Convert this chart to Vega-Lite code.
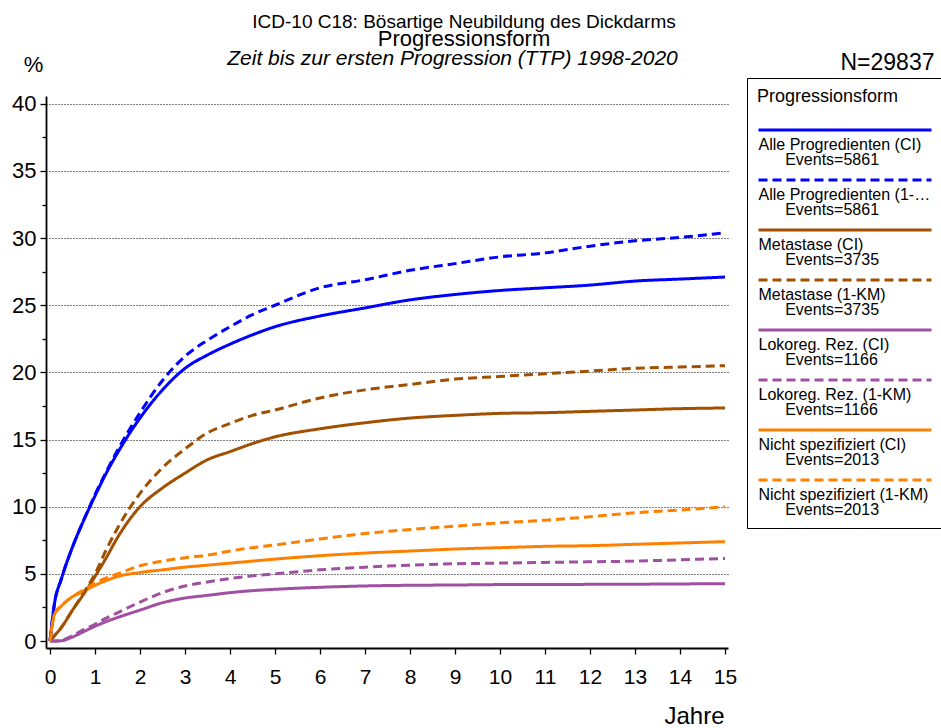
{
  "$schema": "https://vega.github.io/schema/vega-lite/v6.json",
  "width": 682,
  "height": 552,
  "autosize": {"type": "none"},
  "padding": {"left": 46, "top": 96, "right": 213, "bottom": 80},
  "background": "white",
  "title": {
    "text": "ICD-10 C18: Bösartige Neubildung des Dickdarms",
    "subtitle": "Progressionsform",
    "anchor": "middle",
    "frame": "group",
    "dx": 77,
    "dy": 3,
    "offset": 0,
    "font": "Liberation Sans",
    "fontSize": 19,
    "fontWeight": "normal",
    "color": "black",
    "subtitleFont": "Liberation Sans",
    "subtitleFontSize": 22,
    "subtitleColor": "black",
    "subtitlePadding": -3
  },
  "datasets": {
    "names": [
      {"k": "A", "s": "Alle Progredienten (CI)"},
      {"k": "B", "s": "Alle Progredienten (1-KM)"},
      {"k": "C", "s": "Metastase (CI)"},
      {"k": "D", "s": "Metastase (1-KM)"},
      {"k": "E", "s": "Lokoreg. Rez. (CI)"},
      {"k": "F", "s": "Lokoreg. Rez. (1-KM)"},
      {"k": "G", "s": "Nicht spezifiziert (CI)"},
      {"k": "H", "s": "Nicht spezifiziert (1-KM)"}
    ]
  },
  "data": {"values": [
    {"k":"A","t":0,"v":0},{"k":"A","t":0.1,"v":2.8},{"k":"A","t":0.25,"v":4.6},{"k":"A","t":0.5,"v":7.0},{"k":"A","t":0.75,"v":9.0},{"k":"A","t":1,"v":10.8},{"k":"A","t":1.25,"v":12.5},{"k":"A","t":1.5,"v":14.0},{"k":"A","t":2,"v":16.6},{"k":"A","t":2.5,"v":18.7},{"k":"A","t":3,"v":20.3},{"k":"A","t":3.5,"v":21.3},{"k":"A","t":4,"v":22.1},{"k":"A","t":4.5,"v":22.8},{"k":"A","t":5,"v":23.4},{"k":"A","t":6,"v":24.2},{"k":"A","t":7,"v":24.8},{"k":"A","t":8,"v":25.4},{"k":"A","t":9,"v":25.8},{"k":"A","t":10,"v":26.1},{"k":"A","t":11,"v":26.3},{"k":"A","t":12,"v":26.5},{"k":"A","t":13,"v":26.8},{"k":"A","t":14,"v":26.95},{"k":"A","t":15,"v":27.1},
    {"k":"B","t":0,"v":0},{"k":"B","t":0.1,"v":2.8},{"k":"B","t":0.25,"v":4.6},{"k":"B","t":0.5,"v":7.0},{"k":"B","t":0.75,"v":9.0},{"k":"B","t":1,"v":10.9},{"k":"B","t":1.25,"v":12.6},{"k":"B","t":1.5,"v":14.2},{"k":"B","t":2,"v":17.0},{"k":"B","t":2.5,"v":19.4},{"k":"B","t":3,"v":21.2},{"k":"B","t":3.5,"v":22.4},{"k":"B","t":4,"v":23.4},{"k":"B","t":4.5,"v":24.3},{"k":"B","t":5,"v":25.0},{"k":"B","t":6,"v":26.3},{"k":"B","t":7,"v":26.9},{"k":"B","t":8,"v":27.6},{"k":"B","t":9,"v":28.1},{"k":"B","t":10,"v":28.6},{"k":"B","t":11,"v":28.9},{"k":"B","t":12,"v":29.4},{"k":"B","t":13,"v":29.8},{"k":"B","t":14,"v":30.05},{"k":"B","t":15,"v":30.4},
    {"k":"C","t":0,"v":0},{"k":"C","t":0.1,"v":0.4},{"k":"C","t":0.25,"v":1.0},{"k":"C","t":0.5,"v":2.3},{"k":"C","t":0.75,"v":3.5},{"k":"C","t":1,"v":4.8},{"k":"C","t":1.25,"v":6.2},{"k":"C","t":1.5,"v":7.7},{"k":"C","t":2,"v":10.0},{"k":"C","t":2.5,"v":11.4},{"k":"C","t":3,"v":12.5},{"k":"C","t":3.5,"v":13.5},{"k":"C","t":4,"v":14.1},{"k":"C","t":4.5,"v":14.7},{"k":"C","t":5,"v":15.2},{"k":"C","t":6,"v":15.8},{"k":"C","t":7,"v":16.25},{"k":"C","t":8,"v":16.6},{"k":"C","t":9,"v":16.8},{"k":"C","t":10,"v":16.95},{"k":"C","t":11,"v":17.0},{"k":"C","t":12,"v":17.1},{"k":"C","t":13,"v":17.2},{"k":"C","t":14,"v":17.3},{"k":"C","t":15,"v":17.35},
    {"k":"D","t":0,"v":0},{"k":"D","t":0.1,"v":0.4},{"k":"D","t":0.25,"v":1.0},{"k":"D","t":0.5,"v":2.3},{"k":"D","t":0.75,"v":3.6},{"k":"D","t":1,"v":5.0},{"k":"D","t":1.25,"v":6.8},{"k":"D","t":1.5,"v":8.4},{"k":"D","t":2,"v":11.0},{"k":"D","t":2.5,"v":12.9},{"k":"D","t":3,"v":14.3},{"k":"D","t":3.5,"v":15.5},{"k":"D","t":4,"v":16.2},{"k":"D","t":4.5,"v":16.8},{"k":"D","t":5,"v":17.2},{"k":"D","t":6,"v":18.1},{"k":"D","t":7,"v":18.7},{"k":"D","t":8,"v":19.1},{"k":"D","t":9,"v":19.5},{"k":"D","t":10,"v":19.7},{"k":"D","t":11,"v":19.9},{"k":"D","t":12,"v":20.1},{"k":"D","t":13,"v":20.3},{"k":"D","t":14,"v":20.4},{"k":"D","t":15,"v":20.5},
    {"k":"E","t":0,"v":0},{"k":"E","t":0.1,"v":0},{"k":"E","t":0.25,"v":0.02},{"k":"E","t":0.5,"v":0.3},{"k":"E","t":0.75,"v":0.7},{"k":"E","t":1,"v":1.1},{"k":"E","t":1.25,"v":1.45},{"k":"E","t":1.5,"v":1.75},{"k":"E","t":2,"v":2.3},{"k":"E","t":2.5,"v":2.85},{"k":"E","t":3,"v":3.2},{"k":"E","t":3.5,"v":3.4},{"k":"E","t":4,"v":3.6},{"k":"E","t":4.5,"v":3.75},{"k":"E","t":5,"v":3.85},{"k":"E","t":6,"v":4.0},{"k":"E","t":7,"v":4.1},{"k":"E","t":8,"v":4.15},{"k":"E","t":9,"v":4.17},{"k":"E","t":10,"v":4.2},{"k":"E","t":11,"v":4.2},{"k":"E","t":12,"v":4.22},{"k":"E","t":13,"v":4.23},{"k":"E","t":14,"v":4.25},{"k":"E","t":15,"v":4.27},
    {"k":"F","t":0,"v":0},{"k":"F","t":0.1,"v":0},{"k":"F","t":0.25,"v":0.05},{"k":"F","t":0.5,"v":0.4},{"k":"F","t":0.75,"v":0.85},{"k":"F","t":1,"v":1.25},{"k":"F","t":1.25,"v":1.7},{"k":"F","t":1.5,"v":2.1},{"k":"F","t":2,"v":2.9},{"k":"F","t":2.5,"v":3.6},{"k":"F","t":3,"v":4.1},{"k":"F","t":3.5,"v":4.4},{"k":"F","t":4,"v":4.65},{"k":"F","t":4.5,"v":4.85},{"k":"F","t":5,"v":5.0},{"k":"F","t":6,"v":5.3},{"k":"F","t":7,"v":5.5},{"k":"F","t":8,"v":5.65},{"k":"F","t":9,"v":5.75},{"k":"F","t":10,"v":5.8},{"k":"F","t":11,"v":5.85},{"k":"F","t":12,"v":5.9},{"k":"F","t":13,"v":5.95},{"k":"F","t":14,"v":6.05},{"k":"F","t":15,"v":6.15},
    {"k":"G","t":0,"v":0},{"k":"G","t":0.1,"v":2.0},{"k":"G","t":0.25,"v":2.6},{"k":"G","t":0.5,"v":3.3},{"k":"G","t":0.75,"v":3.7},{"k":"G","t":1,"v":4.15},{"k":"G","t":1.25,"v":4.5},{"k":"G","t":1.5,"v":4.8},{"k":"G","t":2,"v":5.1},{"k":"G","t":2.5,"v":5.3},{"k":"G","t":3,"v":5.5},{"k":"G","t":3.5,"v":5.65},{"k":"G","t":4,"v":5.8},{"k":"G","t":4.5,"v":5.95},{"k":"G","t":5,"v":6.1},{"k":"G","t":6,"v":6.35},{"k":"G","t":7,"v":6.55},{"k":"G","t":8,"v":6.7},{"k":"G","t":9,"v":6.85},{"k":"G","t":10,"v":6.95},{"k":"G","t":11,"v":7.05},{"k":"G","t":12,"v":7.1},{"k":"G","t":13,"v":7.2},{"k":"G","t":14,"v":7.3},{"k":"G","t":15,"v":7.4},
    {"k":"H","t":0,"v":0},{"k":"H","t":0.1,"v":2.0},{"k":"H","t":0.25,"v":2.6},{"k":"H","t":0.5,"v":3.3},{"k":"H","t":0.75,"v":3.8},{"k":"H","t":1,"v":4.3},{"k":"H","t":1.25,"v":4.7},{"k":"H","t":1.5,"v":5.0},{"k":"H","t":2,"v":5.6},{"k":"H","t":2.5,"v":5.95},{"k":"H","t":3,"v":6.2},{"k":"H","t":3.5,"v":6.4},{"k":"H","t":4,"v":6.7},{"k":"H","t":4.5,"v":6.95},{"k":"H","t":5,"v":7.15},{"k":"H","t":6,"v":7.6},{"k":"H","t":7,"v":8.0},{"k":"H","t":8,"v":8.3},{"k":"H","t":9,"v":8.55},{"k":"H","t":10,"v":8.8},{"k":"H","t":11,"v":9.0},{"k":"H","t":12,"v":9.25},{"k":"H","t":13,"v":9.55},{"k":"H","t":14,"v":9.75},{"k":"H","t":15,"v":10.0}
  ]},
  "transform": [
    {"lookup": "k", "from": {"data": {"name": "names"}, "key": "k", "fields": ["s"]}}
  ],
  "layer": [
    {
      "transform": [{"filter": {"field": "k", "oneOf": ["A", "C", "E", "G"]}}],
      "mark": {"type": "line", "strokeWidth": 3, "interpolate": "monotone"},
      "encoding": {
        "x": {
          "field": "t", "type": "quantitative",
          "scale": {"domain": [-0.089, 15.067], "nice": false, "zero": false},
          "axis": {
            "values": [0,0.25,0.5,0.75,1,1.25,1.5,1.75,2,2.25,2.5,2.75,3,3.25,3.5,3.75,4,4.25,4.5,4.75,5,5.25,5.5,5.75,6,6.25,6.5,6.75,7,7.25,7.5,7.75,8,8.25,8.5,8.75,9,9.25,9.5,9.75,10,10.25,10.5,10.75,11,11.25,11.5,11.75,12,12.25,12.5,12.75,13,13.25,13.5,13.75,14,14.25,14.5,14.75,15],
            "format": "d",
            "labelExpr": "datum.value % 1 === 0 ? datum.label : ''",
            "labelFontSize": 21,
            "labelPadding": 12,
            "labelOverlap": false,
            "labelFlush": false,
            "tickSize": {"condition": {"test": "datum.value % 1 === 0", "value": 6}, "value": 4},
            "tickWidth": 1.3,
            "domainWidth": 1.8,
            "grid": false,
            "title": "Jahre",
            "titleFontSize": 24,
            "titleX": 648,
            "titleY": 68,
            "titleAlign": "center",
            "titleBaseline": "middle"
          }
        },
        "y": {
          "field": "v", "type": "quantitative",
          "scale": {"domain": [-0.52, 40.58], "nice": false, "zero": false},
          "axis": {
            "values": [0,2.5,5,7.5,10,12.5,15,17.5,20,22.5,25,27.5,30,32.5,35,37.5,40],
            "labelExpr": "datum.value % 5 === 0 ? datum.label : ''",
            "labelFontSize": 22,
            "labelPadding": 4,
            "labelOverlap": false,
            "labelFlush": false,
            "tickSize": {"condition": {"test": "datum.value % 5 === 0", "value": 6}, "value": 4},
            "tickWidth": 1.3,
            "domainWidth": 1.8,
            "grid": true,
            "gridColor": "#000000",
            "gridDash": [1, 2],
            "gridWidth": 1,
            "gridOpacity": {"condition": {"test": "datum.value % 5 === 0 && datum.value > 0", "value": 1}, "value": 0},
            "title": "%",
            "titleAngle": 0,
            "titleFontSize": 22,
            "titleX": -13,
            "titleY": -32,
            "titleAlign": "center",
            "titleBaseline": "middle"
          }
        },
        "color": {
          "field": "s", "type": "nominal",
          "scale": {
            "domain": ["Alle Progredienten (CI)","Alle Progredienten (1-KM)","Metastase (CI)","Metastase (1-KM)","Lokoreg. Rez. (CI)","Lokoreg. Rez. (1-KM)","Nicht spezifiziert (CI)","Nicht spezifiziert (1-KM)"],
            "range": ["#0000ff","#0000ff","#a05000","#a05000","#a050a0","#a050a0","#ff8000","#ff8000"]
          },
          "legend": {
            "title": "Progressionsform",
            "orient": "none",
            "legendX": 701,
            "legendY": -18,
            "strokeColor": "black",
            "fillColor": "white",
            "padding": 10,
            "titleFontSize": 18,
            "titleFontWeight": "normal",
            "titleColor": "black",
            "titlePadding": 19,
            "symbolType": "M-8.65,-0.65L8.65,-0.65",
            "symbolSize": 400,
            "symbolOffset": 76.5,
            "symbolStrokeWidth": 3,
            "labelExpr": "[datum.label, '\u200b\u00a0\u00a0\u00a0\u00a0\u00a0\u00a0Events=' + ((datum.label == 'Alle Progredienten (CI)' || datum.label == 'Alle Progredienten (1-KM)') ? '5861' : (datum.label == 'Metastase (CI)' || datum.label == 'Metastase (1-KM)') ? '3735' : (datum.label == 'Lokoreg. Rez. (CI)' || datum.label == 'Lokoreg. Rez. (1-KM)') ? '1166' : '2013')]",
            "labelBaseline": "top",
            "labelFontSize": 16,
            "labelColor": "black",
            "labelOffset": -98,
            "labelLimit": 172,
            "rowPadding": 6
          }
        },
        "strokeDash": {
          "field": "s", "type": "nominal",
          "scale": {
            "domain": ["Alle Progredienten (CI)","Alle Progredienten (1-KM)","Metastase (CI)","Metastase (1-KM)","Lokoreg. Rez. (CI)","Lokoreg. Rez. (1-KM)","Nicht spezifiziert (CI)","Nicht spezifiziert (1-KM)"],
            "range": [[1,0],[9,5],[1,0],[9,5],[1,0],[9,5],[1,0],[9,5]]
          },
          "legend": {
            "title": "Progressionsform",
            "orient": "none",
            "legendX": 701,
            "legendY": -18,
            "strokeColor": "black",
            "fillColor": "white",
            "padding": 10,
            "titleFontSize": 18,
            "titleFontWeight": "normal",
            "titleColor": "black",
            "titlePadding": 19,
            "symbolType": "M-8.65,-0.65L8.65,-0.65",
            "symbolSize": 400,
            "symbolOffset": 76.5,
            "symbolStrokeWidth": 3,
            "labelExpr": "[datum.label, '\u200b\u00a0\u00a0\u00a0\u00a0\u00a0\u00a0Events=' + ((datum.label == 'Alle Progredienten (CI)' || datum.label == 'Alle Progredienten (1-KM)') ? '5861' : (datum.label == 'Metastase (CI)' || datum.label == 'Metastase (1-KM)') ? '3735' : (datum.label == 'Lokoreg. Rez. (CI)' || datum.label == 'Lokoreg. Rez. (1-KM)') ? '1166' : '2013')]",
            "labelBaseline": "top",
            "labelFontSize": 16,
            "labelColor": "black",
            "labelOffset": -98,
            "labelLimit": 172,
            "rowPadding": 6
          }
        }
      }
    },
    {
      "transform": [{"filter": {"field": "k", "oneOf": ["B", "D", "F", "H"]}}],
      "mark": {"type": "line", "strokeWidth": 3, "interpolate": "monotone"},
      "encoding": {
        "x": {
          "field": "t", "type": "quantitative",
          "scale": {"domain": [-0.089, 15.067], "nice": false, "zero": false},
          "axis": {
            "orient": "top", "labels": false, "ticks": false, "domain": false, "grid": false,
            "title": "Zeit bis zur ersten Progression (TTP) 1998-2020",
            "titleFontStyle": "italic",
            "titleFontSize": 21,
            "titleX": 406,
            "titleY": -32,
            "titleAlign": "center",
            "titleBaseline": "alphabetic"
          }
        },
        "y": {
          "field": "v", "type": "quantitative",
          "scale": {"domain": [-0.52, 40.58], "nice": false, "zero": false},
          "axis": {
            "orient": "right", "labels": false, "ticks": false, "domain": false, "grid": false,
            "title": "N=29837",
            "titleAngle": 0,
            "titleFontSize": 23,
            "titleX": 159,
            "titleY": -34,
            "titleAlign": "center",
            "titleBaseline": "middle"
          }
        },
        "color": {"field": "s", "type": "nominal"},
        "strokeDash": {"field": "s", "type": "nominal"}
      }
    }
  ],
  "resolve": {"axis": {"x": "independent", "y": "independent"}},
  "config": {
    "font": "Liberation Sans",
    "view": {"stroke": null},
    "style": {"guide-label": {"lineHeight": 15}},
    "axis": {
      "labelFont": "Liberation Sans",
      "titleFont": "Liberation Sans",
      "labelColor": "black",
      "titleColor": "black",
      "titleFontWeight": "normal",
      "domainColor": "black",
      "tickColor": "black"
    },
    "legend": {
      "labelFont": "Liberation Sans",
      "titleFont": "Liberation Sans"
    }
  }
}
